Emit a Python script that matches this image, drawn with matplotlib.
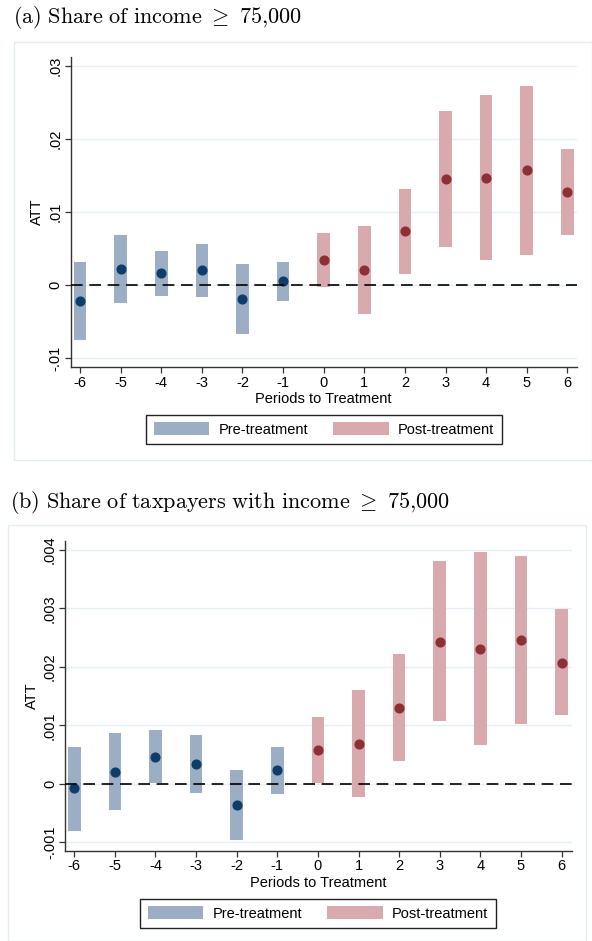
import matplotlib
matplotlib.use('Agg')
import matplotlib.pyplot as plt
from matplotlib.patches import Patch, Rectangle

plt.rcParams['font.family'] = ['Liberation Sans', 'DejaVu Sans']
plt.rcParams['mathtext.fontset'] = 'cm'

periods = [-6, -5, -4, -3, -2, -1, 0, 1, 2, 3, 4, 5, 6]

# (a) share of income >= 75,000
att_a = [-0.00214, 0.00227, 0.00164, 0.0021, -0.0019, 0.00055,
         0.00345, 0.0021, 0.00736, 0.0145, 0.0147, 0.0157, 0.0128]
lo_a = [-0.0075, -0.0024, -0.0015, -0.0016, -0.0067, -0.0021,
        -0.0003, -0.0040, 0.0015, 0.0052, 0.0035, 0.0042, 0.0069]
hi_a = [0.00323, 0.0069, 0.0047, 0.0056, 0.0029, 0.0032,
        0.0072, 0.0081, 0.0132, 0.0239, 0.0260, 0.0273, 0.0186]
yticks_a = [-0.01, 0, 0.01, 0.02, 0.03]
ylabels_a = ['-.01', '0', '.01', '.02', '.03']

# (b) share of taxpayers with income >= 75,000
att_b = [-0.00008, 0.000205, 0.00046, 0.00034, -0.00037, 0.00023,
         0.00058, 0.00068, 0.00129, 0.00243, 0.00231, 0.00246, 0.00207]
lo_b = [-0.0008, -0.00045, 0.00002, -0.000165, -0.00097, -0.00017,
        0.00001, -0.00023, 0.00038, 0.00107, 0.00066, 0.00102, 0.00117]
hi_b = [0.00063, 0.00086, 0.00091, 0.00084, 0.00023, 0.00062,
        0.00114, 0.0016, 0.00222, 0.0038, 0.00396, 0.0039, 0.00299]
yticks_b = [-0.001, 0, 0.001, 0.002, 0.003, 0.004]
ylabels_b = ['-.001', '0', '.001', '.002', '.003', '.004']

PRE_BAR = '#9caec3'
POST_BAR = '#d8a9ad'
PRE_DOT = '#0e3d6b'
POST_DOT = '#8e2e35'

W, H = 592, 941
fig = plt.figure(figsize=(W / 100, H / 100), dpi=100)


def px_axes(left, top, right, bottom):
    return fig.add_axes([left / W, 1 - bottom / H, (right - left) / W, (bottom - top) / H])


def panel(ax, att, lo, hi, yticks, ylabels, ylim, xlim):
    for p, a, l, h in zip(periods, att, lo, hi):
        pre = p < 0
        ax.bar(p, h - l, bottom=l, width=0.31, color=PRE_BAR if pre else POST_BAR,
               linewidth=0, zorder=2)
        ax.plot(p, a, 'o', ms=6.3, color=PRE_DOT if pre else POST_DOT, zorder=3)
    ax.axhline(0, color='black', lw=1.2, ls=(0, (7, 4)), zorder=4)
    ax.set_xlim(*xlim)
    ax.set_ylim(*ylim)
    ax.set_xticks(periods)
    ax.set_xticklabels([str(p) for p in periods], fontsize=10.5)
    ax.set_yticks(yticks)
    ax.set_yticklabels(ylabels, fontsize=10.5, rotation=90, va='center')
    ax.grid(axis='y', color='#e6eff2', lw=1, zorder=0)
    ax.set_axisbelow(True)
    for s in ['top', 'right']:
        ax.spines[s].set_visible(False)
    for s in ['left', 'bottom']:
        ax.spines[s].set_color('#333333')
        ax.spines[s].set_linewidth(1.0)
    ax.tick_params(direction='out', length=4, width=0.9, color='#333333', pad=2)
    ax.set_xlabel('Periods to Treatment', fontsize=10.5, labelpad=2)
    ax.set_ylabel('ATT', fontsize=10.5, labelpad=3)


def legend(top_px, center_px):
    handles = [Patch(facecolor=PRE_BAR, edgecolor='none', label='Pre-treatment'),
               Patch(facecolor=POST_BAR, edgecolor='none', label='Post-treatment')]
    fig.legend(handles=handles, loc='upper center', ncol=2,
               bbox_to_anchor=(center_px / W, 1 - top_px / H),
               fontsize=10.5, frameon=True, fancybox=False, edgecolor='#222222',
               framealpha=1, handlelength=3.8, handleheight=0.95, handletextpad=0.65,
               columnspacing=1.7, borderpad=0.5, borderaxespad=0)


# outer frames and titles
fig.patches.append(Rectangle((14 / W, 1 - 460 / H), (592 - 14) / W, (460 - 41.7) / H,
                             transform=fig.transFigure, fill=False,
                             edgecolor='#e3edf1', lw=1))
fig.patches.append(Rectangle((8.3 / W, 1 - 941 / H), (585.7 - 8.3) / W, (941 - 525) / H,
                             transform=fig.transFigure, fill=False,
                             edgecolor='#e3edf1', lw=1))
fig.text(13 / W, 1 - 23 / H,
         r'$\mathrm{(a)\ Share\ of\ income}\ \geq\ \mathrm{75{,}000}$',
         fontsize=16, va='baseline', ha='left')
fig.text(10 / W, 1 - 508 / H,
         r'$\mathrm{(b)\ Share\ of\ taxpayers\ with\ income}\ \geq\ \mathrm{75{,}000}$',
         fontsize=16, va='baseline', ha='left')

ax_a = px_axes(70.7, 56.7, 576.7, 367.3)
panel(ax_a, att_a, lo_a, hi_a, yticks_a, ylabels_a, (-0.01123, 0.03127), (-6.23, 6.23))
legend(415, 324)

ax_b = px_axes(65.3, 541, 571.7, 850.7)
panel(ax_b, att_b, lo_b, hi_b, yticks_b, ylabels_b, (-0.001145, 0.004149), (-6.22, 6.25))
legend(899, 318)

fig.savefig('out.png', dpi=100)
